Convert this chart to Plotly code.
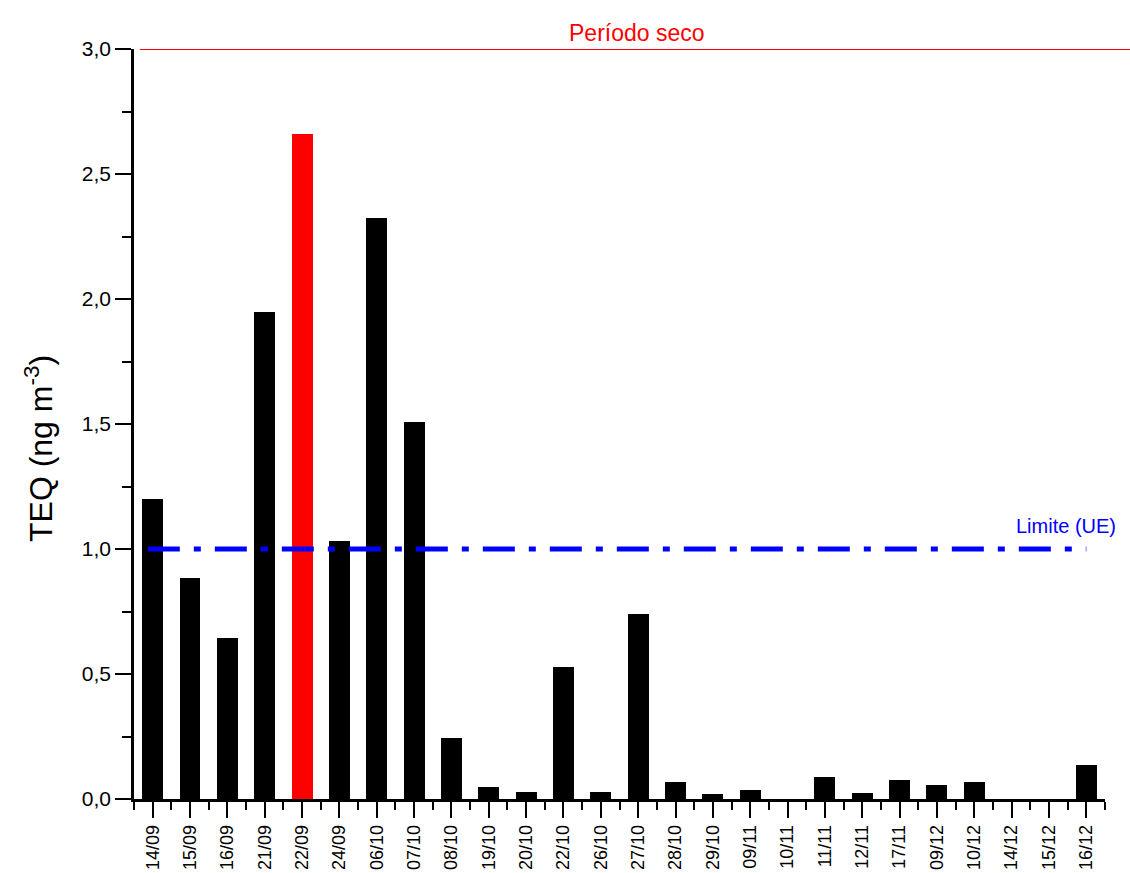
import plotly.graph_objects as go

# Sampling dates and TEQ concentrations (ng m-3)
dates = ["14/09", "15/09", "16/09", "21/09", "22/09", "24/09", "06/10", "07/10",
         "08/10", "19/10", "20/10", "22/10", "26/10", "27/10", "28/10", "29/10",
         "09/11", "10/11", "11/11", "12/11", "17/11", "09/12", "10/12", "14/12",
         "15/12", "16/12"]
teq = [1.20, 0.884, 0.644, 1.948, 2.66, 1.032, 2.324, 1.508,
       0.244, 0.048, 0.028, 0.528, 0.028, 0.74, 0.068, 0.02,
       0.036, 0.0, 0.088, 0.024, 0.076, 0.056, 0.068, 0.0,
       0.0, 0.136]
highlight = "22/09"
eu_limit = 1.0
dry_top = 3.0

colors = ["#ff0000" if d == highlight else "#000000" for d in dates]
xpos = list(range(len(dates)))

FONT = "Liberation Sans, Arial, sans-serif"

fig = go.Figure()
fig.add_trace(go.Bar(
    x=xpos, y=teq, marker=dict(color=colors, line=dict(width=0)),
    width=0.56, showlegend=False, hoverinfo="x+y",
))

# EU limit line
fig.add_shape(type="line", xref="x", yref="y", x0=-0.13, x1=25.0,
              y0=eu_limit, y1=eu_limit, layer="above",
              line=dict(color="#0000ff", width=5, dash="32px,14px,7px,14px"))
fig.add_annotation(x=1.013, y=eu_limit, xref="paper", yref="y", text="Limite (UE)",
                   showarrow=False, xanchor="right", yanchor="bottom", yshift=10,
                   font=dict(family=FONT, size=20, color="#0000ff"))

# Dry period marker
fig.add_shape(type="line", xref="paper", yref="y", x0=0.006, x1=1.03,
              y0=dry_top, y1=dry_top, layer="above",
              line=dict(color="red", width=2))
fig.add_annotation(x=0.518, y=dry_top, xref="paper", yref="y", text="Período seco",
                   showarrow=False, yanchor="bottom", yshift=1,
                   font=dict(family=FONT, size=23, color="#ff0000"))

# Y-axis title
fig.add_annotation(x=0, y=0.5, xref="paper", yref="paper", xshift=-95, yshift=-25,
                   text="TEQ (ng m<sup>-3</sup>)", textangle=-90, showarrow=False,
                   xanchor="center", yanchor="middle",
                   font=dict(family=FONT, size=32, color="#000000"))

fig.update_layout(
    width=1130, height=873,
    margin=dict(l=134, r=25, t=49, b=74, autoexpand=False),
    paper_bgcolor="white", plot_bgcolor="white",
    separators=",.",
    font=dict(family=FONT, color="#000000", size=18),
    bargap=0,
)
fig.update_xaxes(
    range=[-0.5, 25.5], tickmode="array", tickvals=xpos, ticktext=dates,
    tickangle=-90, tickfont=dict(family=FONT, size=18, color="#000000"),
    showgrid=False, zeroline=False, automargin=False,
    showline=True, linecolor="#000000", linewidth=2.5,
    ticks="outside", ticklen=16, tickwidth=2, tickcolor="#000000",
    minor=dict(tickmode="linear", tick0=0.5, dtick=1, ticks="outside",
               ticklen=8, tickwidth=2, tickcolor="#000000"),
)
fig.update_yaxes(
    range=[0, 3.0], tickmode="linear", tick0=0, dtick=0.5, tickformat=".1f",
    tickfont=dict(family=FONT, size=21, color="#000000"),
    showgrid=False, zeroline=False, automargin=False,
    showline=True, linecolor="#000000", linewidth=2.5,
    ticks="outside", ticklen=16, tickwidth=2, tickcolor="#000000",
    minor=dict(tickmode="linear", tick0=0, dtick=0.25, ticks="outside",
               ticklen=9, tickwidth=2, tickcolor="#000000"),
)

fig.write_html("out.html")
